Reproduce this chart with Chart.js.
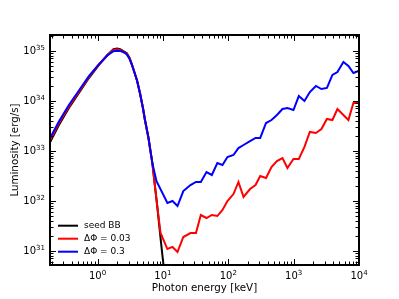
<!DOCTYPE html>
<html lang="en">
<head>
  <meta charset="UTF-8" />
  <title>Seed BB and Comptonized spectra</title>
  <script src="https://cdn.jsdelivr.net/npm/chart.js"></script>
  <style>
    html, body { margin: 0; padding: 0; background: #fff; }
    #wrap { width: 399px; height: 299px; }
  </style>
</head>
<body>
<div id="wrap"><canvas id="spec" width="399" height="299"></canvas></div>

<script>
  // Photon energy grid [keV] of the thermal hump, shared by all curves
  const headEnergy = [0.188, 0.256, 0.364, 0.518, 0.736, 1.05, 1.41, 1.75, 1.99, 2.21, 2.55,
                      2.80, 3.09, 3.38, 3.7, 4.03, 4.48, 4.97, 5.3, 5.72, 6.0, 6.37];
  // Wien cut-off part, per curve
  const seedFallEnergy = [6.83, 7.6, 8.15, 8.66, 9.69, 10.6];
  const redFallEnergy = [6.83, 7.6, 8.15, 9.19];
  const blueFallEnergy = [6.83, 7.97];
  // Comptonized tail grid [keV]
  const tailEnergy = [11.7, 14.0, 16.7, 20.5, 26.4, 32, 38, 46.4, 56, 68, 81.5, 97, 120, 143,
                      171, 215, 261, 308, 378, 458, 555, 674, 804, 993, 1200, 1463, 1770,
                      2190, 2661, 3230, 3920, 4677, 5773, 6887, 8206, 9795];

  // Luminosity [erg/s]
  const seedLum = [1.49e33, 3.27e33, 7.14e33, 1.43e34, 2.84e34, 5.18e34, 8.2e34, 1.07e35, 1.11e35, 1.07e35, 9.6e34,
                   8.87e34, 7.14e34, 5.18e34, 3.58e34, 2.48e34, 1.36e34, 6.82e33, 4.11e33, 2.48e33, 1.8e33, 1.08e33,
                   6.22e32, 1.8e32, 8.2e31, 3.75e31, 9.4e30, 3.3e30];
  const redLum = [1.64e33, 3.55e33, 7.6e33, 1.5e34, 2.95e34, 5.3e34, 8.1e34, 1.04e35, 1.07e35, 1.04e35, 9.4e34,
                  8.7e34, 7.0e34, 5.1e34, 3.55e34, 2.48e34, 1.36e34, 6.82e33, 4.11e33, 2.48e33, 1.8e33, 1.08e33,
                  6.22e32, 1.8e32, 8.2e31, 2.26e31,
                  1.08e31, 1.19e31, 9.4e30, 1.88e31, 2.26e31, 2.26e31, 5.18e31, 4.51e31, 5.18e31, 4.94e31,
                  6.52e31, 9.86e31, 1.36e32, 2.37e32, 1.19e32, 1.71e32, 2.06e32, 3.12e32, 2.84e32, 4.72e32,
                  6.22e32, 7.14e32, 4.51e32, 6.82e32, 6.82e32, 1.19e33, 2.37e33, 2.26e33, 2.72e33, 4.31e33,
                  4.11e33, 6.82e33, 5.18e33, 4.11e33, 9.0e33, 9.0e33];
  const blueLum = [1.80e33, 3.85e33, 8.2e33, 1.6e34, 3.1e34, 5.4e34, 8.0e34, 9.8e34, 1.0e35, 9.9e34, 9.2e34,
                   8.4e34, 6.8e34, 5.0e34, 3.5e34, 2.5e34, 1.36e34, 6.9e33, 4.2e33, 2.55e33, 1.85e33, 1.1e33,
                   5.9e32, 2.45e32,
                   9.0e31, 9.86e31, 7.83e31, 1.56e32, 2.06e32, 2.37e32, 2.37e32, 3.75e32, 3.27e32, 5.68e32,
                   5.18e32, 7.48e32, 8.2e32, 1.13e33, 1.30e33, 1.56e33, 1.80e33, 1.80e33, 3.58e33, 4.11e33,
                   5.18e33, 6.82e33, 7.14e33, 6.52e33, 1.24e34, 9.86e33, 1.49e34, 1.97e34, 1.71e34, 1.80e34,
                   3.27e34, 3.75e34, 5.94e34, 4.94e34, 3.58e34, 3.93e34];

  const seriesLabels = ['seed BB', 'ΔΦ = 0.03', 'ΔΦ = 0.3'];
  const seriesColors = ['#000000', '#ff0000', '#0000ff'];

  const xMajor = [1, 10, 100, 1000, 10000];
  const xMajorExp = ['0', '1', '2', '3', '4'];
  const yMajor = [1e31, 1e32, 1e33, 1e34, 1e35];
  const yMajorExp = ['31', '32', '33', '34', '35'];

  function pairs(es, ls) {
    return es.map((e, i) => ({ x: e, y: ls[i] }));
  }

  const seedData = pairs(headEnergy.concat(seedFallEnergy), seedLum);
  const redData = pairs(headEnergy.concat(redFallEnergy, tailEnergy), redLum);
  const blueData = pairs(headEnergy.concat(blueFallEnergy, tailEnergy), blueLum);

  const FONT = '"DejaVu Sans", sans-serif';

  // draws 10^exp, anchored at x (center or right)
  function drawPow(ctx, exp, x, y, align) {
    ctx.font = '10px ' + FONT;
    const w1 = ctx.measureText('10').width;
    ctx.font = '7px ' + FONT;
    const w2 = ctx.measureText(exp).width;
    const total = w1 + w2;
    const start = align === 'right' ? x - total : x - total / 2;
    ctx.textAlign = 'left';
    ctx.textBaseline = 'alphabetic';
    ctx.font = '10px ' + FONT;
    ctx.fillText('10', start, y);
    ctx.font = '7px ' + FONT;
    ctx.fillText(exp, start + w1, y - 4.5);
  }

  const axesPlugin = {
    id: 'axesPlugin',
    afterDraw(chart) {
      const { ctx, chartArea: a, scales } = chart;
      const sx = scales.x, sy = scales.y;
      ctx.save();
      ctx.strokeStyle = '#000';
      ctx.fillStyle = '#000';

      // inward ticks on all four sides
      ctx.lineWidth = 1;
      ctx.beginPath();
      for (let d = -1; d <= 4; d++) {
        for (let m = 1; m <= 9; m++) {
          const v = m * Math.pow(10, d);
          if (v < sx.min || v > sx.max) continue;
          const px = Math.round(sx.getPixelForValue(v)) + 0.5;
          const len = m === 1 ? 6 : 3.5;
          ctx.moveTo(px, a.bottom); ctx.lineTo(px, a.bottom - len);
          ctx.moveTo(px, a.top); ctx.lineTo(px, a.top + len);
        }
      }
      for (let d = 30; d <= 35; d++) {
        for (let m = 1; m <= 9; m++) {
          const v = m * Math.pow(10, d);
          if (v < sy.min || v > sy.max) continue;
          const py = Math.round(sy.getPixelForValue(v)) + 0.5;
          const len = m === 1 ? 6 : 3.5;
          ctx.moveTo(a.left, py); ctx.lineTo(a.left + len, py);
          ctx.moveTo(a.right, py); ctx.lineTo(a.right - len, py);
        }
      }
      ctx.stroke();

      // frame
      ctx.lineWidth = 2;
      ctx.strokeRect(a.left, a.top, a.right - a.left, a.bottom - a.top);

      // tick labels
      xMajor.forEach((v, i) => {
        drawPow(ctx, xMajorExp[i], sx.getPixelForValue(v), a.bottom + 14, 'center');
      });
      yMajor.forEach((v, i) => {
        drawPow(ctx, yMajorExp[i], a.left - 5, sy.getPixelForValue(v) + 3.6, 'right');
      });

      // axis titles
      ctx.font = '10.3px ' + FONT;
      ctx.textAlign = 'center';
      ctx.textBaseline = 'alphabetic';
      ctx.fillText('Photon energy [keV]', (a.left + a.right) / 2, 291);
      ctx.save();
      ctx.translate(18, (a.top + a.bottom) / 2);
      ctx.rotate(-Math.PI / 2);
      ctx.fillText('Luminosity [erg/s]', 0, 0);
      ctx.restore();

      // legend, lower left inside the axes
      ctx.font = '9px ' + FONT;
      ctx.textAlign = 'left';
      ctx.textBaseline = 'middle';
      ctx.lineWidth = 2;
      seriesLabels.forEach((lab, i) => {
        const ly = 225.7 + i * 13;
        ctx.strokeStyle = seriesColors[i];
        ctx.beginPath();
        ctx.moveTo(58, ly); ctx.lineTo(78, ly);
        ctx.stroke();
        ctx.fillText(lab, 84, ly);
      });
      ctx.restore();
    }
  };

  function makeSet(data, i, order) {
    return {
      label: seriesLabels[i],
      data: data,
      borderColor: seriesColors[i],
      backgroundColor: seriesColors[i],
      borderWidth: 2,
      pointRadius: 0,
      tension: 0,
      fill: false,
      order: order
    };
  }

  new Chart(document.getElementById('spec').getContext('2d'), {
    type: 'line',
    data: {
      datasets: [
        makeSet(seedData, 0, 3),
        makeSet(redData, 1, 2),
        makeSet(blueData, 2, 1)
      ]
    },
    options: {
      responsive: false,
      animation: false,
      layout: { padding: { left: 50, right: 40, top: 35, bottom: 34 } },
      plugins: { legend: { display: false }, tooltip: { enabled: false } },
      scales: {
        x: { type: 'logarithmic', display: false, min: 0.187, max: 10000, bounds: 'data' },
        y: { type: 'logarithmic', display: false, min: 5.18e30, max: 2.06e35, bounds: 'data' }
      }
    },
    plugins: [axesPlugin]
  });
</script>
</body>
</html>
